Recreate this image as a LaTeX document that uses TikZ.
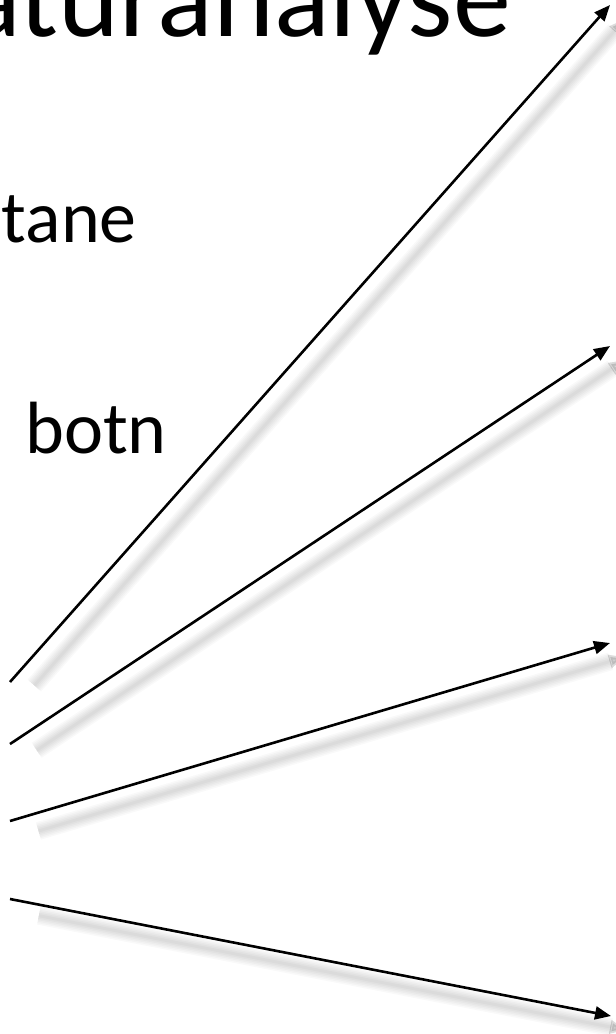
\documentclass[tikz,border=0pt]{standalone}
\usepackage{fontspec}
\setmainfont{Carlito}
\usetikzlibrary{arrows.meta, calc}

\begin{document}
\begin{tikzpicture}[
    x=1pt, y=-1pt,
    tittel/.style={inner sep=0pt, anchor=base east, font=\fontsize{116}{130}\selectfont},
    punkt/.style={inner sep=0pt, anchor=base east, font=\fontsize{74}{88}\selectfont},
    pil/.style={-{Triangle[length=16pt, width=13pt]}, line width=2.6pt, black},
    skugge/.style={-{Triangle[length=16pt, width=13pt]}, black}
]
\useasboundingbox (0,0) rectangle (616,1034);
\fill[white] (0,0) rectangle (616,1034);
\clip (0,0) rectangle (616,1034);

% text, cut at the edges
\node[tittel] (tittel) at (511,36) {aturanalyse};
\node[punkt] (tane) at (137,242) {tane};
\node[punkt] (botn) at (167,453) {botn};

% arrow ends
\coordinate (fra1) at (10,682);
\coordinate (til1) at (610,5);
\coordinate (fra2) at (10,744);
\coordinate (til2) at (610,346);
\coordinate (fra3) at (10,821);
\coordinate (til3) at (610,643);
\coordinate (fra4) at (10,899);
\coordinate (til4) at (611,1016);

% soft shadows
\foreach \n in {1,...,4}
  \foreach \w in {18,15,12,9,6,3}
    \draw[skugge, line width=\w pt, opacity=0.025]
      ($(fra\n)!14pt!(til\n)+(15,14)$) -- ($(til\n)+(15,14)$);

\draw[pil] (fra1) -- (til1);
\draw[pil] (fra2) -- (til2);
\draw[pil] (fra3) -- (til3);
\draw[pil] (fra4) -- (til4);
\end{tikzpicture}
\end{document}
